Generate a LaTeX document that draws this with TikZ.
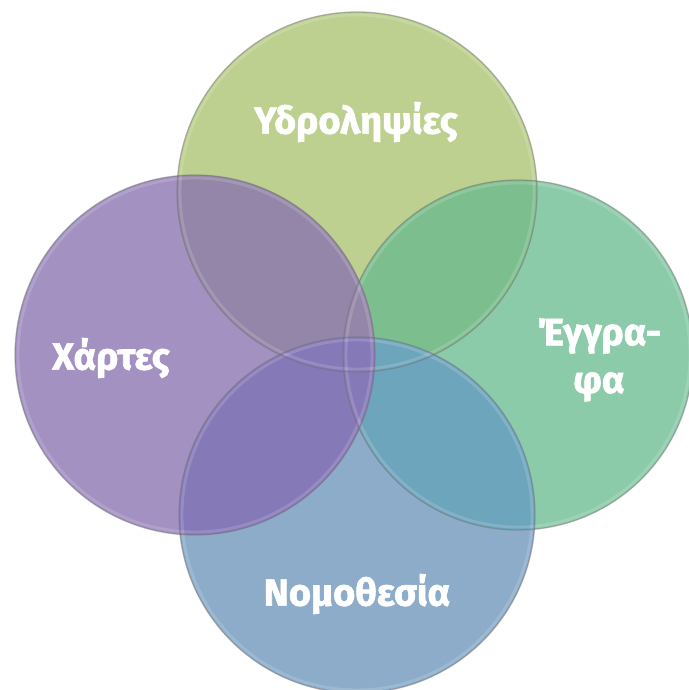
\documentclass[tikz,border=0pt]{standalone}
\usepackage{fontspec}
\setmainfont{Fira Sans}[BoldFeatures={FakeBold=1.6}]
\usetikzlibrary{calc}

\definecolor{topgreen}{HTML}{BDD08F}
\definecolor{leftpurple}{HTML}{A391C2}
\definecolor{rightgreen}{HTML}{8CCBAA}
\definecolor{bottomblue}{HTML}{8DACC9}
\definecolor{tlmix}{HTML}{9486A8}
\definecolor{trmix}{HTML}{7DBE8E}
\definecolor{lbmix}{HTML}{8579B8}
\definecolor{rbmix}{HTML}{6DA5BC}

\begin{document}
\begin{tikzpicture}[x=0.025cm,y=0.025cm,
    rim/.style={draw=black!55,draw opacity=0.5,line width=0.9pt},
    glow/.style={draw=white,draw opacity=0.15,line width=2pt},
    label/.style={text=white,font=\bfseries\fontsize{27}{34}\selectfont,align=center}]
                \useasboundingbox (0,0) rectangle (689,690);
                \coordinate (T) at (357,498);
                \coordinate (L) at (195,335);
                \coordinate (R) at (518,335);
                \coordinate (B) at (357,175);

                % base discs
                \fill[topgreen] (T) circle (180);
                \fill[rightgreen] (R) circle (175);
                \fill[bottomblue] (B) circle (178);
                \fill[leftpurple] (L) circle (180);

                % overlaps
                \begin{scope}
                    \clip (T) circle (180);
                    \fill[trmix] (R) circle (175);
                    \fill[tlmix] (L) circle (180);
                \end{scope}
                \begin{scope}
                    \clip (B) circle (178);
                    \fill[rbmix] (R) circle (175);
                    \fill[lbmix] (L) circle (180);
                \end{scope}

                % rims
                \draw[glow] (T) circle (177);
                \draw[glow] (R) circle (172);
                \draw[glow] (B) circle (175);
                \draw[glow] (L) circle (177);
                \draw[rim] (T) circle (180);
                \draw[rim] (R) circle (175);
                \draw[rim] (B) circle (178);
                \draw[rim] (L) circle (180);

                \node[label] (hydro) at (356,568) {Υδροληψίες};
                \node[label] (maps) at (111,332) {Χάρτες};
                \node[label] (docs) at (599,330) {Έγγρα-\\φα};
                \node[label] (law) at (357,96) {Νομοθεσία};
            \end{tikzpicture}
\end{document}
